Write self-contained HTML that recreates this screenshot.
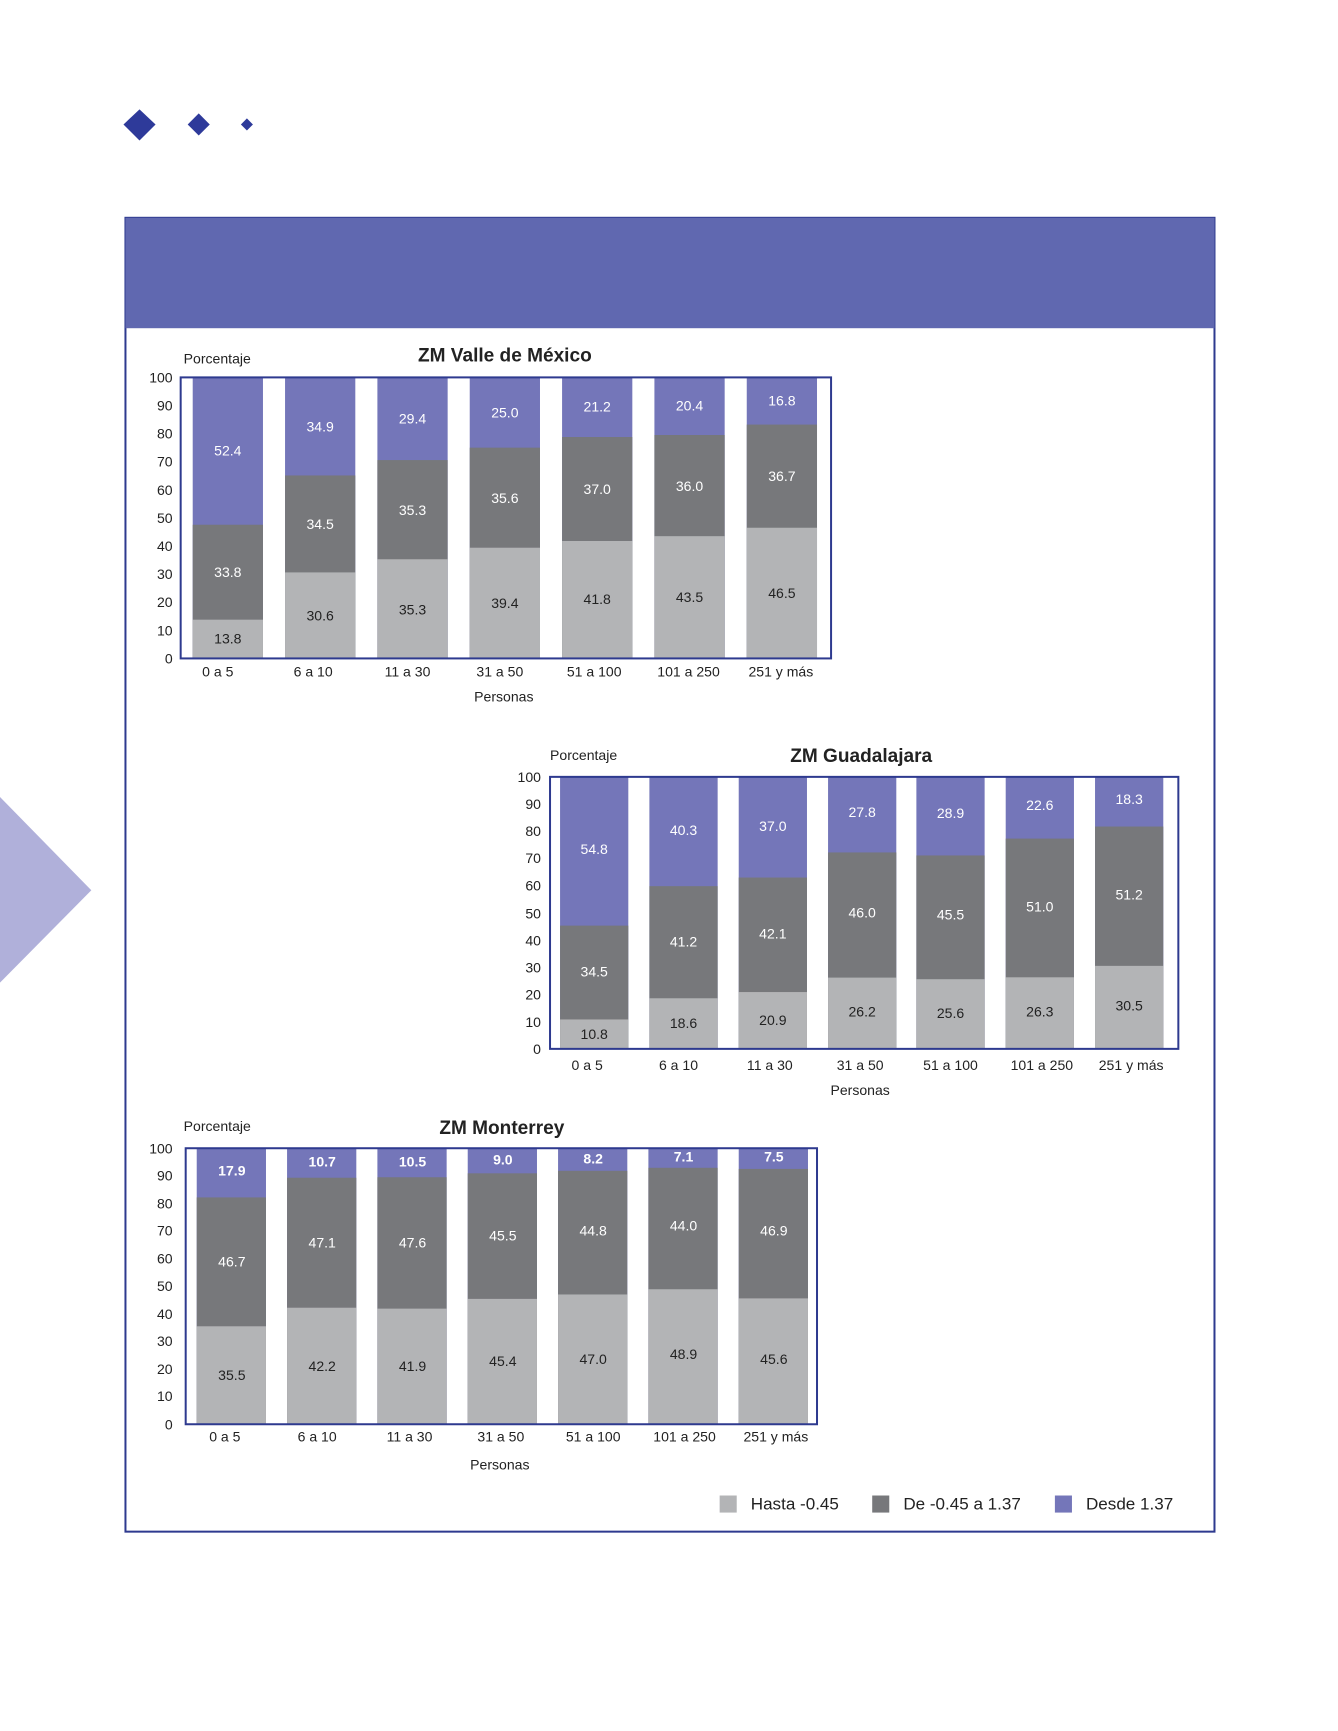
<!DOCTYPE html>
<html><head><meta charset="utf-8"><style>
html,body{margin:0;padding:0;background:#fff;}
svg{display:block;font-family:"Liberation Sans",sans-serif;}
.t{font-size:14px;fill:#222;}
.w{font-size:14px;fill:#fff;text-anchor:middle;}
.b{font-size:14px;fill:#222;text-anchor:middle;}
.y{font-size:14px;fill:#222;text-anchor:end;}
.x{font-size:14px;fill:#222;text-anchor:middle;}
.h{font-size:19px;font-weight:bold;fill:#222;text-anchor:middle;}
.L{fill:#b3b4b6}.D{fill:#77787b}.P{fill:#7476b9}
</style></head><body>
<svg width="1338" height="1731" viewBox="0 0 1338 1731">
<g transform="scale(1.0037)">
<!-- diamonds -->
<polygon points="139,109 155,124 139,140 123,124" fill="#2e3a9a"/>
<polygon points="198,113 209,124 198,135 187,124" fill="#2e3a9a"/>
<polygon points="246,118 252,124 246,130 240,124" fill="#2e3a9a"/>
<!-- left triangle -->
<polygon points="0,794 91,887 0,979" fill="#b0b0da"/>
<!-- frame -->
<rect x="125" y="217" width="1085" height="1309" fill="none" stroke="#2e3a8f" stroke-width="2"/>
<rect x="125" y="217" width="1085" height="110" fill="#6068b0"/>

<!-- CHART 1 -->
<text class="t" x="183" y="362">Porcentaje</text>
<text class="h" x="503" y="360">ZM Valle de México</text>
<g class="y">
<text x="172" y="661">0</text><text x="172" y="633">10</text><text x="172" y="605">20</text><text x="172" y="577">30</text><text x="172" y="549">40</text><text x="172" y="521">50</text><text x="172" y="493">60</text><text x="172" y="465">70</text><text x="172" y="437">80</text><text x="172" y="409">90</text><text x="172" y="381">100</text>
</g>
<g>
<rect class="P" x="192" y="376" width="70" height="280"/><rect class="D" x="192" y="522.8" width="70" height="133.2"/><rect class="L" x="192" y="617.4" width="70" height="38.6"/>
<rect class="P" x="284" y="376" width="70" height="280"/><rect class="D" x="284" y="473.7" width="70" height="182.3"/><rect class="L" x="284" y="570.3" width="70" height="85.7"/>
<rect class="P" x="376" y="376" width="70" height="280"/><rect class="D" x="376" y="458.4" width="70" height="197.6"/><rect class="L" x="376" y="557.2" width="70" height="98.8"/>
<rect class="P" x="468" y="376" width="70" height="280"/><rect class="D" x="468" y="446" width="70" height="210"/><rect class="L" x="468" y="545.7" width="70" height="110.3"/>
<rect class="P" x="560" y="376" width="70" height="280"/><rect class="D" x="560" y="435.4" width="70" height="220.6"/><rect class="L" x="560" y="539" width="70" height="117"/>
<rect class="P" x="652" y="376" width="70" height="280"/><rect class="D" x="652" y="433.4" width="70" height="222.6"/><rect class="L" x="652" y="534.2" width="70" height="121.8"/>
<rect class="P" x="744" y="376" width="70" height="280"/><rect class="D" x="744" y="423" width="70" height="233"/><rect class="L" x="744" y="525.8" width="70" height="130.2"/>
</g>
<rect x="180" y="376" width="648" height="280" fill="none" stroke="#2e3a8f" stroke-width="2"/>
<text class="b" x="227" y="641">13.8</text><text class="w" x="227" y="575">33.8</text><text class="w" x="227" y="454">52.4</text>
<text class="b" x="319" y="618">30.6</text><text class="w" x="319" y="527">34.5</text><text class="w" x="319" y="430">34.9</text>
<text class="b" x="411" y="612">35.3</text><text class="w" x="411" y="513">35.3</text><text class="w" x="411" y="422">29.4</text>
<text class="b" x="503" y="606">39.4</text><text class="w" x="503" y="501">35.6</text><text class="w" x="503" y="416">25.0</text>
<text class="b" x="595" y="602">41.8</text><text class="w" x="595" y="492">37.0</text><text class="w" x="595" y="410">21.2</text>
<text class="b" x="687" y="600">43.5</text><text class="w" x="687" y="489">36.0</text><text class="w" x="687" y="409">20.4</text>
<text class="b" x="779" y="596">46.5</text><text class="w" x="779" y="479">36.7</text><text class="w" x="779" y="404">16.8</text>
<g class="x">
<text x="217" y="674">0 a 5</text><text x="312" y="674">6 a 10</text><text x="406" y="674">11 a 30</text><text x="498" y="674">31 a 50</text><text x="592" y="674">51 a 100</text><text x="686" y="674">101 a 250</text><text x="778" y="674">251 y más</text>
<text x="502" y="699">Personas</text>
</g>

<!-- CHART 2 -->
<text class="t" x="548" y="757">Porcentaje</text>
<text class="h" x="858" y="759">ZM Guadalajara</text>
<g class="y">
<text x="539" y="1050">0</text><text x="539" y="1023">10</text><text x="539" y="996">20</text><text x="539" y="969">30</text><text x="539" y="942">40</text><text x="539" y="915">50</text><text x="539" y="887">60</text><text x="539" y="860">70</text><text x="539" y="833">80</text><text x="539" y="806">90</text><text x="539" y="779">100</text>
</g>
<g>
<rect class="P" x="558" y="774" width="68" height="271"/><rect class="D" x="558" y="922.2" width="68" height="122.8"/><rect class="L" x="558" y="1015.7" width="68" height="29.3"/>
<rect class="P" x="647" y="774" width="68" height="271"/><rect class="D" x="647" y="882.9" width="68" height="162.1"/><rect class="L" x="647" y="994.6" width="68" height="50.4"/>
<rect class="P" x="736" y="774" width="68" height="271"/><rect class="D" x="736" y="874.3" width="68" height="170.7"/><rect class="L" x="736" y="988.4" width="68" height="56.6"/>
<rect class="P" x="825" y="774" width="68" height="271"/><rect class="D" x="825" y="849.3" width="68" height="195.7"/><rect class="L" x="825" y="974" width="68" height="71"/>
<rect class="P" x="913" y="774" width="68" height="271"/><rect class="D" x="913" y="852.3" width="68" height="192.7"/><rect class="L" x="913" y="975.6" width="68" height="69.4"/>
<rect class="P" x="1002" y="774" width="68" height="271"/><rect class="D" x="1002" y="835.5" width="68" height="209.5"/><rect class="L" x="1002" y="973.7" width="68" height="71.3"/>
<rect class="P" x="1091" y="774" width="68" height="271"/><rect class="D" x="1091" y="823.5" width="68" height="221.5"/><rect class="L" x="1091" y="962.3" width="68" height="82.7"/>
</g>
<rect x="548" y="774" width="626" height="271" fill="none" stroke="#2e3a8f" stroke-width="2"/>
<text class="b" x="592" y="1035">10.8</text><text class="w" x="592" y="973">34.5</text><text class="w" x="592" y="851">54.8</text>
<text class="b" x="681" y="1024">18.6</text><text class="w" x="681" y="943">41.2</text><text class="w" x="681" y="832">40.3</text>
<text class="b" x="770" y="1021">20.9</text><text class="w" x="770" y="935">42.1</text><text class="w" x="770" y="828">37.0</text>
<text class="b" x="859" y="1013">26.2</text><text class="w" x="859" y="914">46.0</text><text class="w" x="859" y="814">27.8</text>
<text class="b" x="947" y="1014">25.6</text><text class="w" x="947" y="916">45.5</text><text class="w" x="947" y="815">28.9</text>
<text class="b" x="1036" y="1013">26.3</text><text class="w" x="1036" y="908">51.0</text><text class="w" x="1036" y="807">22.6</text>
<text class="b" x="1125" y="1007">30.5</text><text class="w" x="1125" y="896">51.2</text><text class="w" x="1125" y="801">18.3</text>
<g class="x">
<text x="585" y="1066">0 a 5</text><text x="676" y="1066">6 a 10</text><text x="767" y="1066">11 a 30</text><text x="857" y="1066">31 a 50</text><text x="947" y="1066">51 a 100</text><text x="1038" y="1066">101 a 250</text><text x="1127" y="1066">251 y más</text>
<text x="857" y="1091">Personas</text>
</g>

<!-- CHART 3 -->
<text class="t" x="183" y="1127">Porcentaje</text>
<text class="h" x="500" y="1130">ZM Monterrey</text>
<g class="y">
<text x="172" y="1424">0</text><text x="172" y="1396">10</text><text x="172" y="1369">20</text><text x="172" y="1341">30</text><text x="172" y="1314">40</text><text x="172" y="1286">50</text><text x="172" y="1259">60</text><text x="172" y="1231">70</text><text x="172" y="1204">80</text><text x="172" y="1176">90</text><text x="172" y="1149">100</text>
</g>
<g>
<rect class="P" x="196" y="1144" width="69" height="275"/><rect class="D" x="196" y="1193" width="69" height="226"/><rect class="L" x="196" y="1321.4" width="69" height="97.6"/>
<rect class="P" x="286" y="1144" width="69" height="275"/><rect class="D" x="286" y="1173.4" width="69" height="245.6"/><rect class="L" x="286" y="1302.9" width="69" height="116.1"/>
<rect class="P" x="376" y="1144" width="69" height="275"/><rect class="D" x="376" y="1172.9" width="69" height="246.1"/><rect class="L" x="376" y="1303.8" width="69" height="115.2"/>
<rect class="P" x="466" y="1144" width="69" height="275"/><rect class="D" x="466" y="1169" width="69" height="250"/><rect class="L" x="466" y="1294.1" width="69" height="124.9"/>
<rect class="P" x="556" y="1144" width="69" height="275"/><rect class="D" x="556" y="1166.5" width="69" height="252.5"/><rect class="L" x="556" y="1289.7" width="69" height="129.3"/>
<rect class="P" x="646" y="1144" width="69" height="275"/><rect class="D" x="646" y="1163.5" width="69" height="255.5"/><rect class="L" x="646" y="1284.5" width="69" height="134.5"/>
<rect class="P" x="736" y="1144" width="69" height="275"/><rect class="D" x="736" y="1164.6" width="69" height="254.4"/><rect class="L" x="736" y="1293.6" width="69" height="125.4"/>
</g>
<rect x="185" y="1144" width="629" height="275" fill="none" stroke="#2e3a8f" stroke-width="2"/>
<text class="b" x="231" y="1375">35.5</text><text class="w" x="231" y="1262">46.7</text><text class="w" x="231" y="1171" font-weight="bold">17.9</text>
<text class="b" x="321" y="1366">42.2</text><text class="w" x="321" y="1243">47.1</text><text class="w" x="321" y="1162" font-weight="bold">10.7</text>
<text class="b" x="411" y="1366">41.9</text><text class="w" x="411" y="1243">47.6</text><text class="w" x="411" y="1162" font-weight="bold">10.5</text>
<text class="b" x="501" y="1361">45.4</text><text class="w" x="501" y="1236">45.5</text><text class="w" x="501" y="1160" font-weight="bold">9.0</text>
<text class="b" x="591" y="1359">47.0</text><text class="w" x="591" y="1231">44.8</text><text class="w" x="591" y="1159" font-weight="bold">8.2</text>
<text class="b" x="681" y="1354">48.9</text><text class="w" x="681" y="1226">44.0</text><text class="w" x="681" y="1157" font-weight="bold">7.1</text>
<text class="b" x="771" y="1359">45.6</text><text class="w" x="771" y="1231">46.9</text><text class="w" x="771" y="1157" font-weight="bold">7.5</text>
<g class="x">
<text x="224" y="1436">0 a 5</text><text x="316" y="1436">6 a 10</text><text x="408" y="1436">11 a 30</text><text x="499" y="1436">31 a 50</text><text x="591" y="1436">51 a 100</text><text x="682" y="1436">101 a 250</text><text x="773" y="1436">251 y más</text>
<text x="498" y="1464">Personas</text>
</g>

<!-- legend -->
<rect class="L" x="717" y="1490" width="17" height="17"/>
<text x="748" y="1504" font-size="17" fill="#222">Hasta -0.45</text>
<rect class="D" x="869" y="1490" width="17" height="17"/>
<text x="900" y="1504" font-size="17" fill="#222">De -0.45 a 1.37</text>
<rect class="P" x="1051" y="1490" width="17" height="17"/>
<text x="1082" y="1504" font-size="17" fill="#222">Desde 1.37</text>
</g>
</svg>
</body></html>
